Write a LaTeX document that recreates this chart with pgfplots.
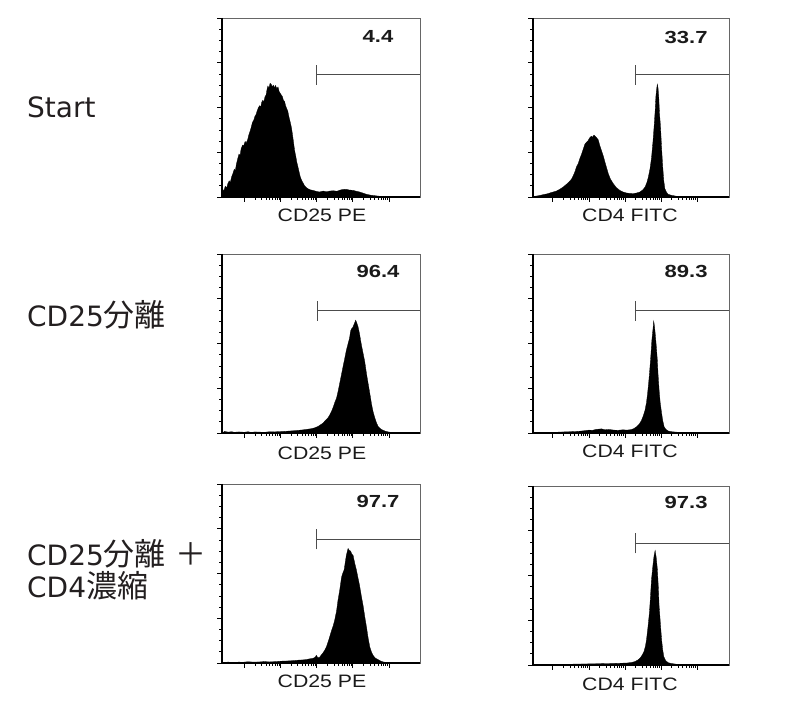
\documentclass[border=0pt]{standalone}
\usepackage{fontspec}
\setmainfont{Liberation Sans}
\newfontfamily\dejavu{DejaVu Sans}
\newfontfamily\jpfont{Noto Sans CJK JP}
\def\jpT#1{{\fontsize{31}{31}\selectfont\jpfont #1}}
\usepackage{graphicx}
\usepackage{pgfplots}
\pgfplotsset{compat=1.18}
\definecolor{txt}{HTML}{1A1A1A}
\definecolor{rowtxt}{HTML}{231F20}

\pgfplotsset{
  flow/.style={
    scale only axis, width=198pt, height=179pt, anchor=south west,
    xmin=-0.62, xmax=4.86, ymin=0, ymax=100,
    axis line style={draw=black!60, line width=0.9pt},
    xtick={0,1,2,3,4},
    minor xtick={0.301,0.477,0.602,0.699,0.778,0.845,0.903,0.954,
                 1.301,1.477,1.602,1.699,1.778,1.845,1.903,1.954,
                 2.301,2.477,2.602,2.699,2.778,2.845,2.903,2.954,
                 3.301,3.477,3.602,3.699,3.778,3.845,3.903,3.954},
    ytick={0,25,50,75,100}, minor y tick num=3,
    xticklabels={}, yticklabels={},
    tick align=outside, xtick pos=bottom, ytick pos=left,
    major tick length=5pt, minor tick length=3pt,
    tick style={black, line width=0.7pt},
    clip=false,
  },
  flowR/.style={flow, width=196pt, xmin=-0.55, xmax=4.89},
  hist/.style={fill=black, draw=black, line width=0.3pt},
  gate/.style={draw=black!70, line width=0.9pt},
}
\def\pctT#1{\scalebox{1.26}[1]{\fontsize{17.5}{17.5}\selectfont\bfseries #1}}
\def\labT#1{\scalebox{1.18}[1]{\fontsize{18}{18}\selectfont #1}}
\def\rowT#1{{\fontsize{28}{30}\selectfont\dejavu #1}}
\def\myFrameLines{\draw[black, line width=1.4pt] (rel axis cs:0,1) -- (rel axis cs:0,0) -- (rel axis cs:1,0);}

\begin{document}
\begin{tikzpicture}
\path[use as bounding box] (0,0) rectangle (785pt,703pt);

% row labels
\node[anchor=base west, inner sep=0pt, text=rowtxt] at (27pt,585.7pt) {\rowT{Start}};
\node[anchor=base west, inner sep=0pt, text=rowtxt] at (27pt,376pt) {\rowT{CD25\jpT{分離}}};
\node[anchor=base west, inner sep=0pt, text=rowtxt] at (27pt,137pt) {\rowT{CD25\jpT{分離}\hspace{10pt}\jpT{＋}}};
\node[anchor=base west, inner sep=0pt, text=rowtxt] at (27pt,105pt) {\rowT{CD4\jpT{濃縮}}};

% ---------- Row 1 left: CD25 PE, Start ----------
\begin{axis}[flow, at={(222pt,506pt)}]
\addplot[hist] coordinates {(-0.62,0)(-0.60,4.5)(-0.57,3.2)(-0.53,6.0)(-0.49,5.1)(-0.46,7.4)(-0.42,9.0)(-0.39,8.2)(-0.35,11.5)(-0.32,13)(-0.28,15.5)(-0.25,14.8)(-0.22,18.5)(-0.19,21)(-0.15,24)(-0.12,23.2)(-0.09,27)(-0.05,29)(-0.02,28.5)(0.02,31)(0.05,30.2)(0.09,32)(0.12,34.5)(0.16,37)(0.19,39)(0.22,41.5)(0.26,43)(0.29,45)(0.32,46)(0.36,48.5)(0.39,50)(0.42,51)(0.45,50.2)(0.48,53)(0.51,54)(0.54,53.2)(0.57,56)(0.60,57)(0.63,60.5)(0.65,62)(0.68,60.8)(0.71,63.5)(0.74,63)(0.77,61.5)(0.80,62.5)(0.83,61)(0.86,62.3)(0.90,60.5)(0.93,61.5)(0.96,59)(0.99,58)(1.02,57)(1.05,56.2)(1.08,54)(1.11,53.5)(1.14,51)(1.17,49.5)(1.20,48)(1.23,45)(1.26,42.5)(1.30,39)(1.33,35)(1.36,30.5)(1.39,26)(1.42,23)(1.45,19.5)(1.48,17)(1.52,13.5)(1.55,11)(1.58,9.5)(1.62,8)(1.66,6.5)(1.70,5.5)(1.76,4.6)(1.82,4.0)(1.90,3.7)(1.98,3.2)(2.08,2.8)(2.18,3.3)(2.28,2.9)(2.36,3.3)(2.46,3.5)(2.56,3.2)(2.64,3.8)(2.72,4.2)(2.82,4.3)(2.90,3.9)(3.01,3.7)(3.10,3.2)(3.19,2.8)(3.28,2.2)(3.38,1.5)(3.50,1.0)(3.66,0.6)(3.85,0.2)(4.03,0)} \closedcycle;
\addplot[gate] coordinates {(2,62.7)(2,73.9)};
\addplot[gate] coordinates {(2,68.3)(4.86,68.3)};
\node[text=txt] at (rel axis cs:0.788,0.894) {\pctT{4.4}};
\node[anchor=base, text=txt] at (rel axis cs:0.505,0) [yshift=-25pt] {\labT{CD25 PE}};
\myFrameLines
\end{axis}

% ---------- Row 1 right: CD4 FITC, Start ----------
\begin{axis}[flowR, at={(533pt,506pt)}]
\addplot[hist] coordinates {(-0.55,0)(-0.50,0.4)(-0.40,0.7)(-0.27,1.3)(-0.15,1.8)(0.01,2.8)(0.10,3.3)(0.20,4.4)(0.29,5.6)(0.36,6.8)(0.44,8.2)(0.52,10)(0.58,12.5)(0.62,14.5)(0.66,17)(0.70,18.5)(0.75,21.5)(0.80,24)(0.84,26.5)(0.89,29.5)(0.93,30.5)(0.98,31.5)(1.02,33)(1.07,34)(1.10,33.3)(1.14,34.6)(1.17,34)(1.21,33.2)(1.26,32)(1.30,29)(1.35,26)(1.40,23)(1.44,20)(1.49,16.5)(1.54,13)(1.60,10)(1.68,7.4)(1.76,5.3)(1.86,3.7)(1.95,2.8)(2.05,2.2)(2.15,2.0)(2.23,1.9)(2.32,2.2)(2.42,2.8)(2.50,4.0)(2.56,5.6)(2.61,8)(2.65,11)(2.70,16)(2.74,22)(2.78,31)(2.81,39)(2.84,48)(2.86,56)(2.88,60)(2.90,63)(2.92,61)(2.94,56)(2.96,47)(2.99,39)(3.02,27)(3.05,17)(3.08,9)(3.11,4.6)(3.16,2.5)(3.20,1.5)(3.30,0.9)(3.44,0.4)(3.71,0)} \closedcycle;
\addplot[gate] coordinates {(2.28,62.7)(2.28,73.9)};
\addplot[gate] coordinates {(2.28,68.3)(4.89,68.3)};
\node[text=txt] at (rel axis cs:0.781,0.891) {\pctT{33.7}};
\node[anchor=base, text=txt] at (rel axis cs:0.495,0) [yshift=-25pt] {\labT{CD4 FITC}};
\myFrameLines
\end{axis}

% ---------- Row 2 left: CD25 PE, CD25 sort ----------
\begin{axis}[flow, at={(222pt,270pt)}]
\addplot[hist] coordinates {(-0.58,0)(-0.56,0.9)(-0.45,0.5)(-0.35,0.7)(-0.28,0.4)(-0.15,0.6)(0,0.4)(0.10,0.7)(0.20,0.3)(0.28,0.6)(0.40,0.5)(0.56,0.4)(0.70,0.7)(0.83,0.6)(0.95,0.8)(1.11,0.9)(1.25,1.1)(1.39,1.3)(1.50,1.5)(1.60,1.7)(1.67,1.9)(1.75,2.1)(1.85,2.4)(1.95,2.9)(2.04,3.7)(2.10,4.5)(2.18,5.6)(2.24,7)(2.31,8.4)(2.36,10)(2.41,12)(2.46,14.5)(2.50,17)(2.55,19.5)(2.59,23)(2.64,28)(2.69,33)(2.73,37)(2.78,42)(2.82,46)(2.87,50)(2.91,53)(2.94,57)(2.96,58)(3.00,59)(3.04,61)(3.08,63)(3.11,61.5)(3.15,59)(3.19,55)(3.24,49)(3.28,45)(3.33,40)(3.38,33)(3.43,27)(3.48,21)(3.52,16)(3.56,12)(3.61,8.4)(3.66,5.5)(3.70,3.7)(3.75,2.6)(3.80,1.9)(3.90,1.0)(3.98,0.6)(4.17,0)} \closedcycle;
\addplot[gate] coordinates {(2.02,62.6)(2.02,73.8)};
\addplot[gate] coordinates {(2.02,68.2)(4.86,68.2)};
\node[text=txt] at (rel axis cs:0.788,0.905) {\pctT{96.4}};
\node[anchor=base, text=txt] at (rel axis cs:0.505,0) [yshift=-27pt] {\labT{CD25 PE}};
\myFrameLines
\end{axis}

% ---------- Row 2 right: CD4 FITC, CD25 sort ----------
\begin{axis}[flowR, at={(533pt,270pt)}]
\addplot[hist] coordinates {(-0.55,0)(-0.53,0.2)(-0.3,0.3)(0.06,0.4)(0.3,0.6)(0.61,0.8)(0.75,1.0)(0.89,1.3)(1.0,1.6)(1.1,1.5)(1.2,2.0)(1.35,2.3)(1.45,1.8)(1.55,2.0)(1.7,1.6)(1.81,1.5)(1.95,1.8)(2.05,1.6)(2.18,1.9)(2.25,2.5)(2.32,3.4)(2.40,5)(2.46,7)(2.51,9.5)(2.56,12.8)(2.60,17)(2.63,22)(2.66,28)(2.69,35)(2.72,43)(2.75,52)(2.78,58)(2.80,62.5)(2.82,60)(2.84,56)(2.87,49)(2.90,41)(2.92,33)(2.95,24)(2.98,17)(3.02,11)(3.05,7)(3.09,3.4)(3.14,2.0)(3.20,1.1)(3.30,0.7)(3.48,0.4)(3.85,0)} \closedcycle;
\addplot[gate] coordinates {(2.28,62.6)(2.28,73.8)};
\addplot[gate] coordinates {(2.28,68.2)(4.89,68.2)};
\node[text=txt] at (rel axis cs:0.781,0.9) {\pctT{89.3}};
\node[anchor=base, text=txt] at (rel axis cs:0.495,0) [yshift=-25pt] {\labT{CD4 FITC}};
\myFrameLines
\end{axis}

% ---------- Row 3 left: CD25 PE, sort + enrich ----------
\begin{axis}[flow, at={(222pt,40pt)}]
\addplot[hist] coordinates {(-0.62,0)(-0.60,0.3)(-0.45,0.5)(-0.3,0.3)(-0.15,0.5)(-0.05,0.4)(0.10,0.7)(0.25,0.5)(0.42,0.6)(0.55,0.8)(0.70,0.6)(0.88,0.8)(1.00,1.0)(1.15,1.1)(1.34,1.3)(1.50,1.6)(1.60,1.7)(1.71,1.9)(1.80,2.3)(1.90,2.6)(1.96,3.2)(1.99,4.3)(2.03,3.0)(2.08,3.2)(2.14,4.8)(2.18,5.8)(2.22,7)(2.27,9)(2.32,12)(2.36,14.6)(2.41,18)(2.46,21)(2.50,24)(2.55,29)(2.59,35)(2.64,41)(2.69,48)(2.72,50)(2.76,52)(2.79,56)(2.82,60)(2.85,62.5)(2.87,64)(2.90,63)(2.94,62.5)(2.97,61)(3.01,60)(3.05,56)(3.10,52)(3.15,47)(3.19,43)(3.24,37)(3.29,31.5)(3.33,26)(3.38,20)(3.42,14.5)(3.47,9)(3.52,6)(3.56,4.3)(3.62,2.8)(3.70,1.9)(3.78,1.0)(3.84,0.6)(4.03,0)} \closedcycle;
\addplot[gate] coordinates {(2,63.5)(2,74.7)};
\addplot[gate] coordinates {(2,69.1)(4.86,69.1)};
\node[text=txt] at (rel axis cs:0.788,0.904) {\pctT{97.7}};
\node[anchor=base, text=txt] at (rel axis cs:0.505,0) [yshift=-25pt] {\labT{CD25 PE}};
\myFrameLines
\end{axis}

% ---------- Row 3 right: CD4 FITC, sort + enrich ----------
\begin{axis}[flowR, at={(533pt,38pt)}]
\addplot[hist] coordinates {(-0.55,0)(-0.3,0.2)(0,0.4)(0.3,0.3)(0.6,0.5)(0.94,0.6)(1.2,0.7)(1.49,0.8)(1.75,0.9)(2.05,1.1)(2.18,1.4)(2.28,1.9)(2.36,2.8)(2.42,3.8)(2.48,5.5)(2.53,7.5)(2.57,10.5)(2.60,14)(2.64,21)(2.68,29)(2.71,38)(2.74,48)(2.78,56)(2.81,61)(2.84,64)(2.87,60)(2.90,54)(2.93,43)(2.95,33)(2.99,22)(3.02,14)(3.05,8.5)(3.08,4.7)(3.13,2.5)(3.20,1.3)(3.30,0.8)(3.44,0.4)(3.71,0)} \closedcycle;
\addplot[gate] coordinates {(2.28,62.4)(2.28,73.6)};
\addplot[gate] coordinates {(2.28,68)(4.89,68)};
\node[text=txt] at (rel axis cs:0.781,0.91) {\pctT{97.3}};
\node[anchor=base, text=txt] at (rel axis cs:0.495,0) [yshift=-26pt] {\labT{CD4 FITC}};
\myFrameLines
\end{axis}
\end{tikzpicture}
\end{document}
